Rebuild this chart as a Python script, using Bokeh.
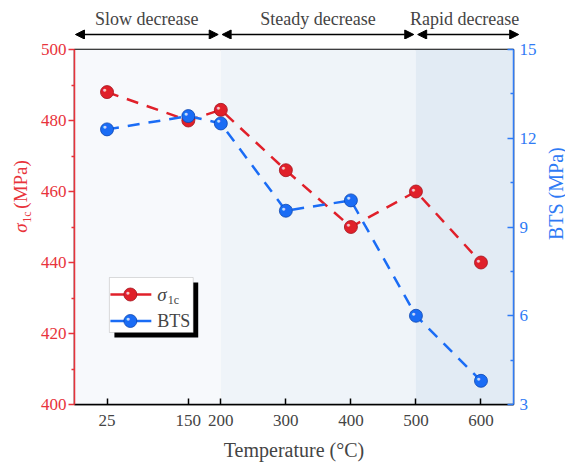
import math
from bokeh.plotting import figure
from bokeh.models import (Range1d, LinearAxis, FixedTicker, BoxAnnotation, Label,
                          Arrow, NormalHead, ColumnDataSource)
from bokeh.layouts import column, row
from bokeh.embed import file_html
from bokeh.resources import INLINE
from bokeh.core.properties import value

# ---------------- data ----------------
temps = [25, 150, 200, 300, 400, 500, 600]
sigma_1c = [488, 480, 483, 466, 450, 460, 440]
bts = [12.3, 12.75, 12.5, 9.55, 9.9, 6.0, 3.8]
x_ticks = [25, 150, 200, 300, 400, 500, 600]
left_ticks = [400, 420, 440, 460, 480, 500]
left_minor = [410, 430, 450, 470, 490]
right_ticks = [3, 6, 9, 12, 15]
right_minor = [4.5, 7.5, 10.5, 13.5]
stage_bounds = [-25, 200, 500, 650]
stage_labels = ["Slow decrease", "Steady decrease", "Rapid decrease"]
stage_colors = ["#f7f9fc", "#eff4f9", "#e2ebf4"]

RED = "#e0202a"
RED_DARK = "#a3121a"
BLUE = "#1a6cf5"
BLUE_DARK = "#0b45b0"
RED_AX = "#e8333b"
BLUE_AX = "#2f7bf5"
FONT = "Liberation Serif"

W = 565
LEFT_W, RIGHT_W = 37, 22          # side figures holding the axis titles
BL, BR, BT, BB = 73, 52, 10, 61   # page borders of the main frame
MAIN_H = 426
TOP_H = 39
FW = W - BL - BR
FH = MAIN_H - BT - BB

xr = Range1d(stage_bounds[0], stage_bounds[-1])
yr = Range1d(left_ticks[0], left_ticks[-1])

p = figure(width=W - LEFT_W - RIGHT_W, height=MAIN_H, x_range=xr, y_range=yr,
           output_backend="svg", toolbar_location=None,
           min_border_left=BL - LEFT_W, min_border_right=BR - RIGHT_W,
           min_border_top=BT, min_border_bottom=BB)
p.extra_y_ranges = {"bts": Range1d(right_ticks[0], right_ticks[-1])}
p.xgrid.visible = False
p.ygrid.visible = False
p.outline_line_color = "black"
p.outline_line_width = 1.5
p.background_fill_color = "white"
p.border_fill_color = "white"

# stage background shading
for i in range(3):
    p.add_layout(BoxAnnotation(left=stage_bounds[i], right=stage_bounds[i + 1],
                               fill_color=stage_colors[i], fill_alpha=1.0,
                               line_color=None, level="underlay"))

# x axis
xa = p.xaxis[0]
xa.ticker = FixedTicker(ticks=x_ticks, minor_ticks=[])
xa.major_tick_in = 6
xa.major_tick_out = 0
xa.axis_line_width = 1.5
xa.major_tick_line_width = 1.5
xa.major_label_text_font = FONT
xa.major_label_text_font_size = "17px"
xa.major_label_standoff = 10
xa.axis_label = "Temperature (°C)"
xa.axis_label_text_font = FONT
xa.axis_label_text_font_size = "20px"
xa.axis_label_text_font_style = "normal"
xa.axis_label_standoff = 10

# left axis
ya = p.yaxis[0]
ya.ticker = FixedTicker(ticks=left_ticks, minor_ticks=left_minor)
ya.major_tick_out = 6
ya.major_tick_in = 0
ya.minor_tick_out = 3
ya.minor_tick_in = 0
for attr in ["axis_line_color", "major_tick_line_color", "minor_tick_line_color",
             "major_label_text_color"]:
    setattr(ya, attr, RED_AX)
ya.axis_line_width = 1.5
ya.major_tick_line_width = 1.5
ya.minor_tick_line_width = 1.5
ya.major_label_text_font = FONT
ya.major_label_text_font_size = "17px"
ya.major_label_standoff = 2

# right axis
ra = LinearAxis(y_range_name="bts",
                ticker=FixedTicker(ticks=right_ticks, minor_ticks=right_minor))
ra.major_tick_in = 6
ra.major_tick_out = 0
ra.minor_tick_in = 3
ra.minor_tick_out = 0
for attr in ["axis_line_color", "major_tick_line_color", "minor_tick_line_color",
             "major_label_text_color"]:
    setattr(ra, attr, BLUE_AX)
ra.axis_line_width = 1.5
ra.major_tick_line_width = 1.5
ra.minor_tick_line_width = 1.5
ra.major_label_text_font = FONT
ra.major_label_text_font_size = "17px"
ra.major_label_standoff = 6
p.add_layout(ra, "right")

# data
src = ColumnDataSource(dict(t=temps, s=sigma_1c, b=bts, dot=["●"] * len(temps)))
p.line("t", "s", source=src, color=RED, line_width=2.5, line_dash="12 9")
p.line("t", "b", source=src, color=BLUE, line_width=2.5, line_dash="12 9",
       y_range_name="bts")
p.scatter("t", "s", source=src, size=13, fill_color=RED, line_color=RED_DARK,
          line_width=0.8)
p.text("t", "s", text="dot", source=src, x_offset=-2.5, y_offset=-2.5,
       text_color="white", text_alpha=0.75, text_font_size="7px",
       text_align="center", text_baseline="middle")
p.scatter("t", "b", source=src, size=13, fill_color=BLUE, line_color=BLUE_DARK,
          line_width=0.8, y_range_name="bts")
p.text("t", "b", text="dot", source=src, x_offset=-2.5, y_offset=-2.5,
       text_color="white", text_alpha=0.75, text_font_size="7px",
       text_align="center", text_baseline="middle", y_range_name="bts")

# ---------- helpers: page pixel -> data (for legend decoration) ----------
def px_x(px):
    return xr.start + (px - BL) / FW * (xr.end - xr.start)

def gy(page_y):
    return yr.end - (page_y - TOP_H - BT) / FH * (yr.end - yr.start)

# legend with shadow
p.add_layout(BoxAnnotation(left=px_x(113), right=px_x(197), top=gy(282), bottom=gy(337),
                           fill_color="black", fill_alpha=1.0, line_color=None))
p.add_layout(BoxAnnotation(left=px_x(108), right=px_x(192), top=gy(277), bottom=gy(332),
                           fill_color="white", fill_alpha=1.0, line_color="#8a8a8a",
                           line_width=1))
for col, dark, py in [(RED, RED_DARK, 294), (BLUE, BLUE_DARK, 320.5)]:
    r = p.line([px_x(109), px_x(150)], [gy(py), gy(py)], color=col, line_width=2.5)
    r.level = "overlay"
    s = p.scatter([px_x(129)], [gy(py)], size=13, fill_color=col, line_color=dark,
                  line_width=0.8)
    s.level = "overlay"
    h = p.text([px_x(129)], [gy(py)], text=["●"], x_offset=-2.5, y_offset=-2.5,
               text_color="white", text_alpha=0.75, text_font_size="7px",
               text_align="center", text_baseline="middle")
    h.level = "overlay"

p.add_layout(Label(x=px_x(156), y=gy(294), text="σ", text_font=FONT,
                   text_font_style="italic", text_font_size="19px",
                   text_baseline="middle", text_align="left"))
p.add_layout(Label(x=px_x(166.5), y=gy(299), text="1c", text_font=FONT,
                   text_font_size="12px", text_baseline="middle", text_align="left"))
p.add_layout(Label(x=px_x(156), y=gy(320.5), text="BTS", text_font=FONT,
                   text_font_size="18px", text_baseline="middle", text_align="left"))

# ---------------- side figures holding the axis titles ----------------
def side_fig(w):
    f = figure(width=w, height=MAIN_H, x_range=Range1d(0, w), y_range=Range1d(0, MAIN_H),
               output_backend="svg", toolbar_location=None,
               x_axis_location=None, y_axis_location=None,
               min_border_left=0, min_border_right=0, min_border_top=0, min_border_bottom=0)
    f.xgrid.visible = False
    f.ygrid.visible = False
    f.outline_line_color = None
    f.background_fill_color = "white"
    f.border_fill_color = "white"
    return f

def fy(page_y):
    return MAIN_H - (page_y - TOP_H)

lf = side_fig(LEFT_W)
lf.text([20], [fy(259)], text=["σ"], angle=math.pi / 2, text_font=value(FONT),
        text_font_style="italic", text_font_size="19px", text_color=RED_AX,
        text_baseline="middle", text_align="left")
lf.text([26.5], [fy(247)], text=["1c"], angle=math.pi / 2, text_font=value(FONT),
        text_font_size="12px", text_color=RED_AX, text_baseline="middle", text_align="left")
lf.text([20], [fy(230)], text=["(MPa)"], angle=math.pi / 2, text_font=value(FONT),
        text_font_size="19px", text_color=RED_AX, text_baseline="middle", text_align="left")

rf = side_fig(RIGHT_W)
rf.text([555 - (W - RIGHT_W)], [fy(212)], text=["BTS (MPa)"], angle=math.pi / 2,
        text_font=value(FONT), text_font_size="20px", text_color=BLUE_AX,
        text_baseline="middle", text_align="center")

# ---------------- header with stage arrows ----------------
top_xr = Range1d(stage_bounds[0], stage_bounds[-1] + BR / FW * (stage_bounds[-1] - stage_bounds[0]))
top = figure(width=W, height=TOP_H, x_range=top_xr, y_range=Range1d(0, TOP_H),
             output_backend="svg", toolbar_location=None,
             x_axis_location=None, y_axis_location=None,
             min_border_left=BL, min_border_right=0, min_border_top=0, min_border_bottom=0)
top.xgrid.visible = False
top.ygrid.visible = False
top.outline_line_color = None
top.background_fill_color = "white"
top.border_fill_color = "white"
gap = 3
for i in range(3):
    a, b = stage_bounds[i], stage_bounds[i + 1]
    x_end = b - gap if i < 2 else b + 8
    top.add_layout(Arrow(x_start=a + gap, x_end=x_end, y_start=TOP_H - 34, y_end=TOP_H - 34,
                         line_width=1.5, line_color="black",
                         start=NormalHead(size=9, fill_color="black", line_color="black"),
                         end=NormalHead(size=9, fill_color="black", line_color="black")))
    top.add_layout(Label(x=(a + b) / 2, y=TOP_H - 18, text=stage_labels[i], text_font=FONT,
                         text_font_size="18px", text_align="center", text_baseline="middle"))

layout = column(top, row(lf, p, rf, spacing=0), spacing=0)
open("out.html", "w").write(file_html(layout, INLINE))
